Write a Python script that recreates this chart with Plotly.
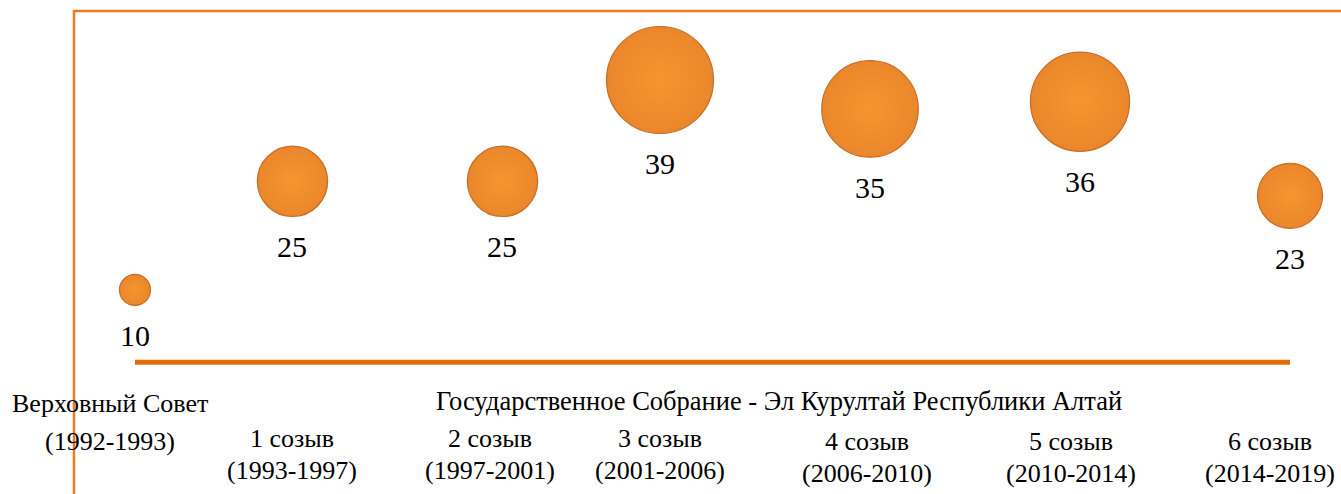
import plotly.graph_objects as go

# ---- data ----
periods = ["Верховный Совет", "1 созыв", "2 созыв", "3 созыв", "4 созыв", "5 созыв", "6 созыв"]
years = ["(1992-1993)", "(1993-1997)", "(1997-2001)", "(2001-2006)", "(2006-2010)", "(2010-2014)", "(2014-2019)"]
x_pos = [0, 3, 7, 10, 14, 18, 22]
values = [10, 25, 25, 39, 35, 36, 23]
group_title = "Государственное Собрание - Эл Курултай Республики Алтай"

# ---- layout helpers (styling only) ----
W, H = 1341, 494
X_RANGE = [-2.571, 22.971]
Y_RANGE = [-18.18, 50.05]
FONT = "Liberation Serif, Times New Roman, serif"
sizes = [4.8 + 2.62 * v for v in values]

fig = go.Figure()
fig.add_trace(go.Scatter(
    x=x_pos, y=values, mode="markers",
    marker=dict(size=sizes, sizemode="diameter", color="#EA872B",
                gradient=dict(type="radial", color="#F6952F"),
                line=dict(color="#C66C26", width=1.2), opacity=1),
    hoverinfo="text", text=[f"{p} {y}: {v}" for p, y, v in zip(periods, years, values)],
    showlegend=False,
))

annotations = []
for x, v, s in zip(x_pos, values, sizes):
    annotations.append(dict(x=x, y=v, xref="x", yref="y", text=str(v), showarrow=False,
                            yshift=-(s / 2 + 30), font=dict(family=FONT, size=30, color="#000000")))

# category labels under the axis (pixel positions, tuned to reference)
label_px = [110, 292, 490, 660, 867, 1071, 1270]
label_y1 = [403, 438, 438, 438, 441, 441, 441]
label_y2 = [441, 470, 470, 470, 473, 473, 473]
LBL = 26
for p, yr, px, y1, y2 in zip(periods, years, label_px, label_y1, label_y2):
    annotations.append(dict(x=px / W, y=1 - y1 / H, xref="paper", yref="paper", text=p,
                            showarrow=False, xanchor="center", yanchor="middle",
                            font=dict(family=FONT, size=LBL, color="#000000")))
    annotations.append(dict(x=px / W, y=1 - y2 / H, xref="paper", yref="paper", text=yr,
                            showarrow=False, xanchor="center", yanchor="middle",
                            font=dict(family=FONT, size=LBL, color="#000000")))
annotations.append(dict(x=779 / W, y=1 - 401 / H, xref="paper", yref="paper", text=group_title,
                        showarrow=False, xanchor="center", yanchor="middle",
                        font=dict(family=FONT, size=26.5, color="#000000")))

shapes = [
    # top border
    dict(type="line", xref="paper", yref="paper", x0=73 / W, x1=1, y0=1 - 11 / H, y1=1 - 11 / H,
         line=dict(color="#F47A20", width=2.5)),
    # left vertical line
    dict(type="line", xref="paper", yref="paper", x0=74 / W, x1=74 / W, y0=0, y1=1 - 10 / H,
         line=dict(color="#F07A22", width=2.5)),
    # thick baseline from first to last convocation
    dict(type="line", xref="x", yref="y", x0=x_pos[0], x1=x_pos[-1], y0=0, y1=0,
         line=dict(color="#E36C0A", width=5), layer="below"),
]

fig.update_layout(
    width=W, height=H,
    margin=dict(l=0, r=0, t=0, b=0),
    paper_bgcolor="white", plot_bgcolor="white",
    xaxis=dict(range=X_RANGE, visible=False, fixedrange=True),
    yaxis=dict(range=Y_RANGE, visible=False, fixedrange=True),
    annotations=annotations, shapes=shapes,
    showlegend=False,
)

fig.write_html("out.html", config={"displayModeBar": False},
               post_script="document.body.style.margin='0';document.body.style.overflow='hidden';")
